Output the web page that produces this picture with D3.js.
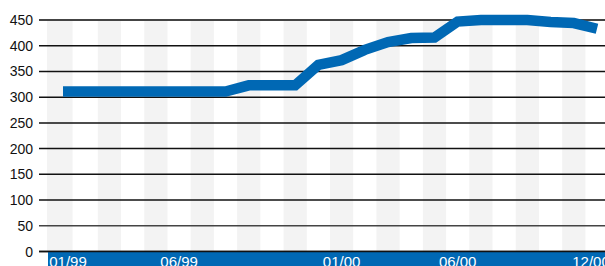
<!DOCTYPE html>
<html>
<head>
<meta charset="utf-8">
<script src="https://cdn.jsdelivr.net/npm/d3@7"></script>
<style>
  html, body { margin: 0; padding: 0; background: #fff; }
  svg { display: block; }
</style>
</head>
<body>
<svg width="605" height="266"></svg>
<script>
// data: monthly values Jan 1999 - Dec 2000
const months = ["01/99","02/99","03/99","04/99","05/99","06/99","07/99","08/99","09/99","10/99","11/99","12/99",
                "01/00","02/00","03/00","04/00","05/00","06/00","07/00","08/00","09/00","10/00","11/00","12/00"];
const values = [311, 311, 311, 311, 311, 311, 311, 311, 323, 323, 323, 363,
                372, 392, 407, 415, 416, 447, 450, 450, 450, 446, 444, 433];
const labelMonths = ["01/99", "06/99", "01/00", "06/00", "12/00"];
const yTicks = [0, 50, 100, 150, 200, 250, 300, 350, 400, 450];

const width = 605, height = 266;
const blue = '#0068b4';
const plotLeft = 47;

const svg = d3.select("svg");

const x = d3.scalePoint()
    .domain(months)
    .range([63, 597]);

const step = x.step();

const y = d3.scaleLinear()
    .domain([0, 450])
    .range([251.5, 20]);

// -------- stripes (every other month)
const stripeX0 = (d, i) => i === 0 ? plotLeft : x(d) - step / 2;

svg.append('g')
  .selectAll('rect')
  .data(months.filter((d, i) => i % 2 === 0))
  .join('rect')
    .attr('x', (d, i) => stripeX0(d, i))
    .attr('width', (d, i) => x(d) + step / 2 - stripeX0(d, i) - (i === 0 ? 2 : 0))
    .attr('y', y(450))
    .attr('height', y(0) - y(450))
    .attr('fill', '#f3f3f3');

// -------- gridlines + y labels
const grid = svg.append('g');
grid.selectAll('line')
  .data(yTicks)
  .join('line')
    .attr('x1', 39)
    .attr('x2', width)
    .attr('y1', d => y(d))
    .attr('y2', d => y(d))
    .attr('stroke', d => (d === 450 || d === 50) ? '#444' : '#111')
    .attr('stroke-width', d => d === 450 ? 2 : 1.5);

grid.selectAll('text')
  .data(yTicks)
  .join('text')
    .attr('x', 33)
    .attr('y', d => y(d))
    .attr('dy', '0.36em')
    .attr('text-anchor', 'end')
    .attr('font-family', 'Liberation Sans, Arial, sans-serif')
    .attr('font-size', 14)
    .attr('fill', '#111')
    .text(d => d);

// -------- bottom bar
svg.append('rect')
  .attr('x', plotLeft + 1)
  .attr('y', y(0))
  .attr('width', width - plotLeft)
  .attr('height', height - y(0))
  .attr('fill', blue);

svg.append('line')
  .attr('x1', 39).attr('x2', width)
  .attr('y1', y(0)).attr('y2', y(0))
  .attr('stroke', '#111').attr('stroke-width', 1.5);

// month labels, kept inside the bar at both ends
svg.append('g')
  .selectAll('text')
  .data(labelMonths)
  .join('text')
    .attr('x', d => Math.min(591, Math.max(68, x(d))))
    .attr('y', 266.5)
    .attr('text-anchor', 'middle')
    .attr('font-family', 'Liberation Sans Narrow, Arial Narrow, sans-serif')
    .attr('font-size', 15)
    .attr('fill', '#fff')
    .text(d => d);

// -------- line
const line = d3.line()
    .x((d, i) => x(months[i]))
    .y(d => y(d));

svg.append('path')
  .datum(values)
  .attr('d', line)
  .attr('fill', 'none')
  .attr('stroke', blue)
  .attr('stroke-width', 10.5)
  .attr('stroke-linejoin', 'miter')
  .attr('stroke-linecap', 'butt');
</script>
</body>
</html>
